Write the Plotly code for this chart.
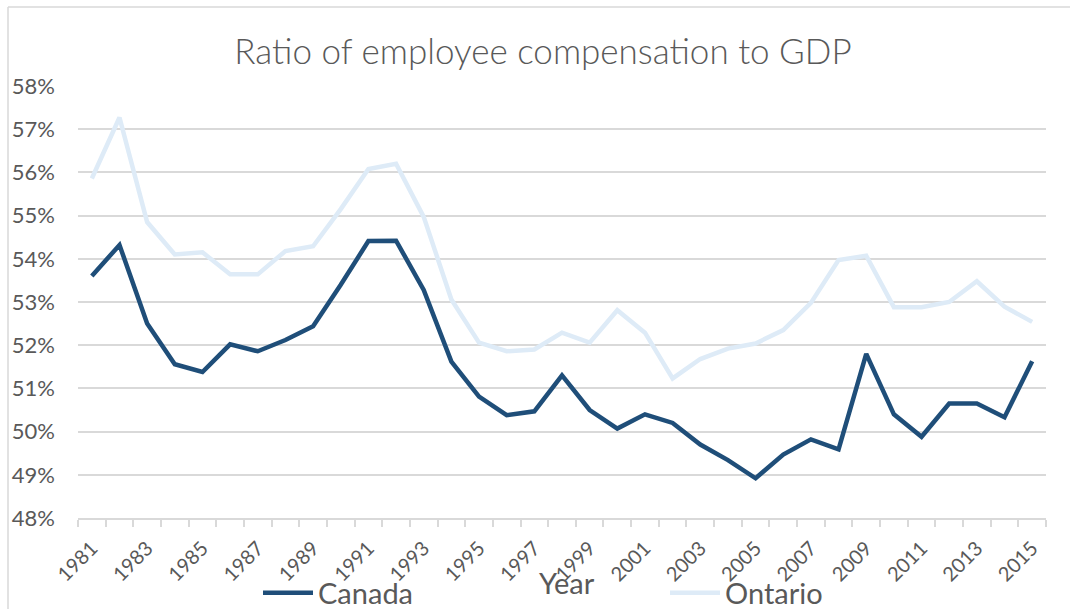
import plotly.graph_objects as go

years = list(range(1981, 2016))
canada = [53.60, 54.32, 52.50, 51.56, 51.38, 52.02, 51.86, 52.12, 52.44, 53.40,
          54.41, 54.42, 53.28, 51.62, 50.81, 50.38, 50.47, 51.30, 50.50, 50.07,
          50.40, 50.20, 49.70, 49.34, 48.92, 49.47, 49.82, 49.59, 51.80, 50.40,
          49.88, 50.65, 50.65, 50.33, 51.63]
ontario = [55.86, 57.27, 54.85, 54.10, 54.15, 53.64, 53.64, 54.18, 54.29, 55.15,
           56.08, 56.20, 54.97, 53.06, 52.06, 51.86, 51.90, 52.29, 52.06, 52.81,
           52.29, 51.23, 51.68, 51.92, 52.04, 52.35, 52.98, 53.97, 54.07, 52.88,
           52.88, 53.00, 53.48, 52.89, 52.54]
y_ticks = list(range(48, 59))
x_labels = [y for y in years if y % 2 == 1]

TXT = "#595959"
GRID = "#d9d9d9"
FONT = "Lato"

fig = go.Figure()
fig.add_trace(go.Scatter(x=years, y=canada, name="Canada", mode="lines",
                         line=dict(color="#1f4e79", width=4.5)))
fig.add_trace(go.Scatter(x=years, y=ontario, name="Ontario", mode="lines",
                         line=dict(color="#deebf7", width=4.5)))

W, H = 1070, 609
L, R, T, B = 78, 24, 86, 91
pw, ph = W - L - R, H - T - B

def px2x(p):
    return (p - L) / pw

def py2y(p):
    return (H - B - p) / ph

fig.update_layout(
    width=W, height=H,
    margin=dict(l=L, r=R, t=T, b=B, autoexpand=False),
    paper_bgcolor="white", plot_bgcolor="white",
    font=dict(family=FONT, color=TXT),
    title=dict(text="Ratio of employee compensation to GDP",
               x=px2x(543), xanchor="center", xref="paper",
               y=1 - 52 / H, yanchor="middle",
               font=dict(family=FONT, size=35, color=TXT, weight=300)),
    xaxis=dict(
        range=[years[0] - 0.5, years[-1] + 0.5],
        tickmode="array", tickvals=x_labels, ticktext=[str(v) for v in x_labels],
        tickangle=-45, ticks="", showgrid=False,
        showline=True, linecolor=GRID, linewidth=1.5,
        tickfont=dict(family=FONT, size=20, color=TXT),
        ticklabelstandoff=9, automargin=False,
        minor=dict(tickmode="array",
                   tickvals=[v - 0.5 for v in years] + [years[-1] + 0.5],
                   ticks="outside", ticklen=7, tickcolor=GRID, tickwidth=1.5,
                   showgrid=False),
        zeroline=False, fixedrange=True,
    ),
    yaxis=dict(
        range=[48, 58], tickmode="array", tickvals=y_ticks,
        ticktext=[f"{v}%" for v in y_ticks],
        showgrid=True, gridcolor=GRID, gridwidth=1.5,
        zeroline=False, showline=False, ticks="",
        tickfont=dict(family=FONT, size=22, color=TXT),
        ticklabelstandoff=22, automargin=False, fixedrange=True,
    ),
    legend=dict(orientation="h", x=px2x(258), xanchor="left",
                y=py2y(593), yanchor="middle",
                font=dict(family=FONT, size=29, color=TXT),
                entrywidth=342, entrywidthmode="pixels",
                bgcolor="rgba(0,0,0,0)", itemwidth=50),
    showlegend=True,
)

fig.add_annotation(text="Year", xref="paper", yref="paper",
                   x=px2x(567), y=py2y(582), xanchor="center", yanchor="middle",
                   showarrow=False, font=dict(family=FONT, size=29, color=TXT))

# chart border (top and left visible in frame)
fig.add_shape(type="line", xref="paper", yref="paper",
              x0=px2x(8), x1=px2x(1075), y0=py2y(7), y1=py2y(7),
              line=dict(color=GRID, width=1.5))
fig.add_shape(type="line", xref="paper", yref="paper",
              x0=px2x(8), x1=px2x(8), y0=py2y(7), y1=py2y(615),
              line=dict(color=GRID, width=1.5))

fig.write_html("out.html", config={"displayModeBar": False},
               post_script="document.body.style.margin='0';document.body.style.overflow='hidden';")
